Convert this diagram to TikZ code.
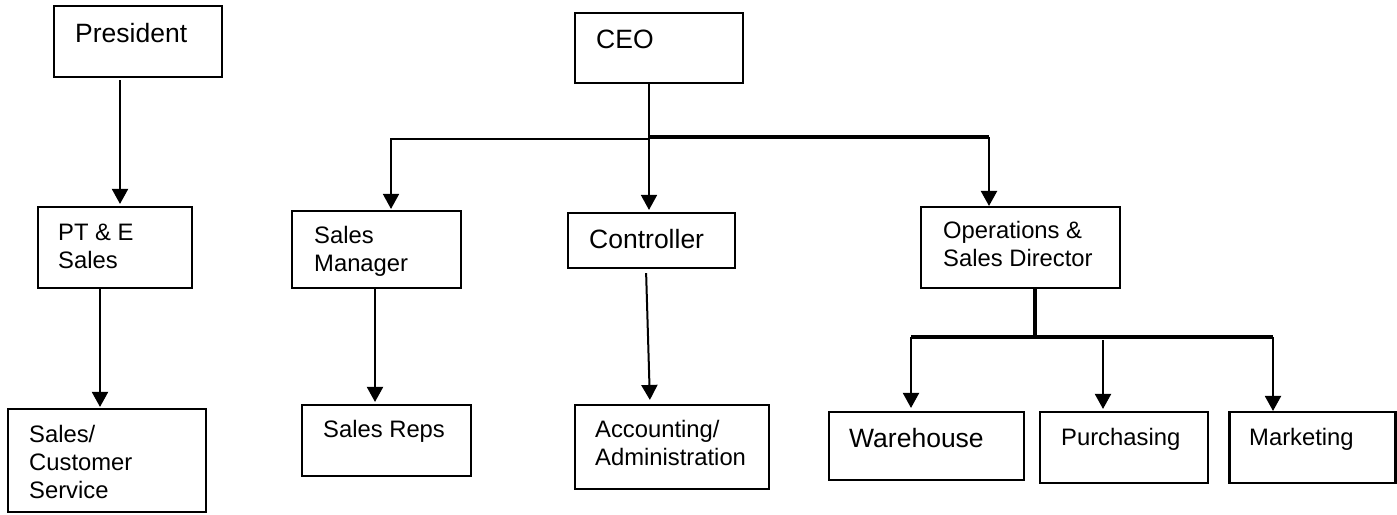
\documentclass[tikz,border=0pt]{standalone}
\usepackage{fontspec}
\setmainfont{Liberation Sans}
\usetikzlibrary{arrows.meta}
\newcommand\mlines[1]{\vtop{#1}}
\begin{document}
\begin{tikzpicture}[x=1pt,y=-1pt,
  box/.style={draw, line width=2.1pt, rectangle, inner sep=0pt},
  arr/.style={line width=2pt, -{Triangle[width=16pt,length=15pt]}},
  thinln/.style={line width=1.6pt},
  thk/.style={line width=3.4pt},
  txtbig/.style={anchor=base west, inner sep=0pt, font=\fontsize{26.5}{30}\selectfont},
  txtsm/.style={anchor=base west, inner sep=0pt, font=\fontsize{23.8}{28}\selectfont}]
\useasboundingbox (0,0) rectangle (1397,514);
\fill[white] (0,0) rectangle (1397,514);

% boxes
\node[box, minimum width=168pt, minimum height=71pt] (pres) at (138,41.5) {};
\node[box, minimum width=154pt, minimum height=81pt] (ptes) at (115,247.5) {};
\node[box, minimum width=198pt, minimum height=103pt] (scs) at (107,460.5) {};
\node[box, minimum width=168pt, minimum height=70pt] (ceo) at (659,48) {};
\node[box, minimum width=169pt, minimum height=77pt] (sm) at (376.5,249.5) {};
\node[box, minimum width=167pt, minimum height=55pt] (ctrl) at (651.5,240.5) {};
\node[box, minimum width=199pt, minimum height=81pt] (ops) at (1020.5,247.5) {};
\node[box, minimum width=169pt, minimum height=71pt] (sr) at (386.5,440.5) {};
\node[box, minimum width=194pt, minimum height=84pt] (acc) at (672,447) {};
\node[box, minimum width=195pt, minimum height=68pt] (wh) at (926.5,446) {};
\node[box, minimum width=168pt, minimum height=71pt] (pu) at (1124,447.5) {};
\node[box, minimum width=166pt, minimum height=71pt] (mk) at (1312.5,447.5) {};

% texts
\node[txtbig] (tpres) at (75,42) {President};
\node[txtsm] (tptes) at (58,240) {\mlines{\hbox{PT \& E}\hbox{Sales}}};
\node[txtsm] (tscs) at (29,442) {\mlines{\hbox{Sales/}\hbox{Customer}\hbox{Service}}};
\node[txtbig] (tceo) at (596,48) {CEO};
\node[txtsm] (tsm) at (314,243) {\mlines{\hbox{Sales}\hbox{Manager}}};
\node[txtbig] (tctrl) at (589,248) {Controller};
\node[txtsm] (tops) at (943,238) {\mlines{\hbox{Operations \&}\hbox{Sales Director}}};
\node[txtsm] (tsr) at (323,437) {Sales Reps};
\node[txtsm] (tacc) at (595,437) {\mlines{\hbox{Accounting/}\hbox{Administration}}};
\node[txtbig] (twh) at (849,447) {Warehouse};
\node[txtsm] (tpu) at (1061,445) {Purchasing};
\node[txtsm] (tmk) at (1249,445) {Marketing};

% column / row coordinates
\coordinate (x1) at (120,0);
\coordinate (x2) at (100,0);
\coordinate (x3) at (649,0);
\coordinate (x4) at (391,0);
\coordinate (x5) at (989,0);
\coordinate (x6) at (375,0);
\coordinate (x7) at (646,0);
\coordinate (x8) at (650,0);
\coordinate (x9) at (1035,0);
\coordinate (x10) at (911,0);
\coordinate (x11) at (1103,0);
\coordinate (x12) at (1273,0);
\coordinate (j1) at (0,139);
\coordinate (j2) at (0,137);
\coordinate (j3) at (0,337);

% connectors
\draw[arr, shorten <=2pt, shorten >=2pt] (pres.south -| x1) -- (ptes.north -| x1);
\draw[arr, shorten >=1pt] (ptes.south -| x2) -- (scs.north -| x2);
\draw[arr, thinln, shorten >=2pt] (ceo.south -| x3) -- (ctrl.north -| x3);
\draw[arr, thinln, shorten >=1pt] (x3 |- j1) -| (sm.north -| x4);
\draw[thk] (x3 |- j2) -- (x5 |- j2);
\draw[arr, line width=2.2pt] (x5 |- j2) -- (ops.north -| x5);
\draw[arr, shorten >=2pt] (sm.south -| x6) -- (sr.north -| x6);
\draw[arr, shorten <=4pt, shorten >=4pt] (ctrl.south -| x7) -- (acc.north -| x8);
\draw[thk] (ops.south -| x9) -- (x9 |- j3);
\draw[thk] (x10 |- j3) -- (x12 |- j3);
\draw[arr, shorten >=3pt] (x10 |- j3) -- (wh.north -| x10);
\draw[arr, shorten <=3pt, shorten >=2pt] (x11 |- j3) -- (pu.north -| x11);
\draw[arr] (x12 |- j3) -- (mk.north -| x12);
\end{tikzpicture}
\end{document}
